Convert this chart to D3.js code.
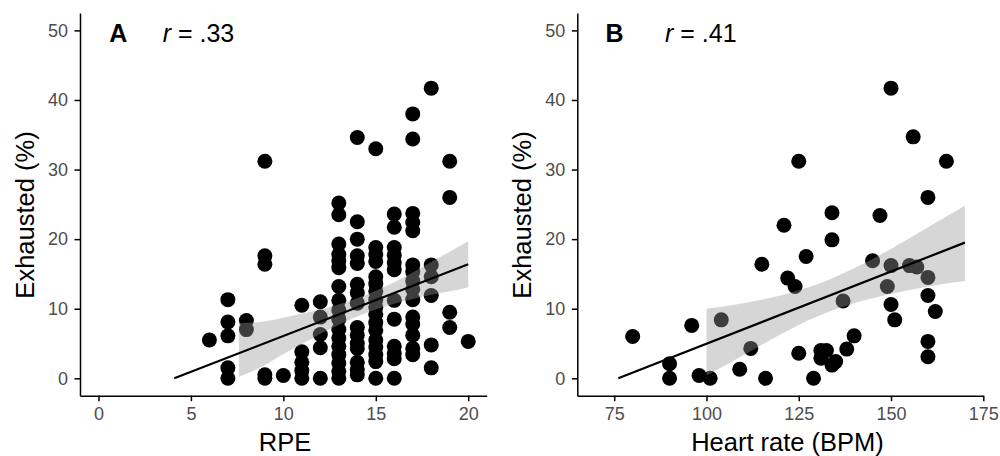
<!DOCTYPE html>
<html>
<head>
<meta charset="utf-8">
<script src="https://cdn.jsdelivr.net/npm/d3@7"></script>
<style>
  body { margin: 0; background: #fff; }
  svg { display: block; }
  text { font-family: "Liberation Sans", Arial, Helvetica, sans-serif; }
</style>
</head>
<body>
<svg id="chart" width="1000" height="456"></svg>
<script>
// ---- Panel A: RPE vs. exhausted (%) ----
const rpe = [
  6,
  7, 7, 7, 7, 7,
  8, 8,
  9, 9, 9, 9, 9,
  10,
  11, 11, 11, 11, 11,
  12, 12, 12, 12, 12,
  13, 13, 13, 13, 13, 13, 13, 13, 13, 13, 13, 13, 13, 13, 13, 13, 13,
  14, 14, 14, 14, 14, 14, 14, 14, 14, 14, 14, 14, 14, 14, 14,
  15, 15, 15, 15, 15, 15, 15, 15, 15, 15, 15, 15, 15, 15, 15, 15, 15,
  16, 16, 16, 16, 16, 16, 16, 16, 16, 16, 16, 16,
  17, 17, 17, 17, 17, 17, 17, 17, 17, 17, 17, 17, 17, 17, 17,
  18, 18, 18, 18, 18, 18,
  19, 19, 19, 19,
  20
];
const exhaustedA = [
  5.5,
  11.3, 8.1, 6.1, 1.5, 0,
  8.3, 7.0,
  31.2, 17.6, 16.4, 0.5, 0,
  0.4,
  10.5, 3.8, 2.3, 1.1, 0,
  11.0, 8.8, 6.3, 4.4, 0,
  25.2, 23.5, 19.3, 17.8, 16.9, 15.9, 13.2, 11.2, 9.8, 8.5, 7.0, 5.8, 4.6, 3.4, 2.2, 1.0, 0,
  34.6, 22.5, 20.0, 17.6, 16.5, 13.5, 12.3, 10.8, 7.3, 6.2, 5.0, 4.3, 2.3, 1.3, 0.5,
  33.0, 18.8, 17.8, 16.8, 14.6, 13.6, 12.5, 11.3, 10.2, 9.2, 8.0, 6.9, 5.5, 4.5, 3.4, 2.4, 0,
  23.6, 21.7, 18.8, 17.7, 16.6, 15.6, 11.2, 8.5, 4.6, 3.6, 2.8, 0,
  38.0, 34.4, 23.7, 22.4, 21.2, 16.3, 15.3, 14.0, 12.8, 11.3, 8.8, 7.8, 6.2, 4.3, 3.4,
  41.7, 16.3, 14.6, 11.9, 4.8, 1.5,
  31.2, 26.0, 9.5, 7.3,
  5.3
];
const fitAx = [4.1, 20];
const fitAy = [0, 16.4];
const bandAx  = [7.6, 9, 10, 11, 12, 13, 14, 15, 16, 17, 18, 19, 20];
const bandAlo = [0.2, 1.9, 3.5, 4.9, 6.4, 7.7, 8.9, 9.9, 10.7, 11.4, 12.0, 12.5, 13.1];
const bandAhi = [7.9, 8.2, 8.7, 9.3, 9.9, 10.6, 11.5, 12.6, 13.8, 15.2, 16.7, 18.2, 19.7];
const ticksAx = [0, 5, 10, 15, 20];

// ---- Panel B: heart rate vs. exhausted (%) ----
const heartRate = [
  80, 90, 90, 96, 98, 101, 104, 109, 112, 115,
  116, 121, 122, 124, 125, 125, 127, 129, 131, 131,
  132.5, 134, 134, 134, 135, 137, 138, 140, 145, 147,
  149, 150, 150, 150, 151, 155, 156, 157, 160, 160,
  160, 160, 160, 162, 165
];
const exhaustedB = [
  6.0, 2.1, 0, 7.6, 0.4, 0, 8.4, 1.3, 4.3, 16.4,
  0, 22.0, 14.4, 13.2, 31.2, 3.6, 17.5, 0, 4.0, 2.9,
  4.0, 23.8, 19.9, 1.9, 2.4, 11.1, 4.2, 6.1, 16.9, 23.4,
  13.2, 41.7, 16.2, 10.6, 8.4, 16.2, 34.7, 16.0, 26.0, 14.5,
  11.9, 5.3, 3.1, 9.6, 31.2
];
const fitBx = [76.1, 170];
const fitBy = [0, 19.5];
const bandBx  = [100, 110, 120, 130, 140, 150, 160, 170];
const bandBlo = [0.4, 3.3, 6.3, 8.9, 10.8, 12.1, 13.2, 14.0];
const bandBhi = [10.0, 10.8, 11.9, 13.5, 15.8, 18.6, 21.7, 24.8];
const ticksBx = [75, 100, 125, 150, 175];

const ticksY = [0, 10, 20, 30, 40, 50];
const yTitle = "Exhausted (%)";

const svg = d3.select("#chart");

function drawPanel(p) {
  const x = d3.scaleLinear().domain(p.xDomain).range([p.left, p.right]);
  const y = d3.scaleLinear().domain([-2.5, 52.5]).range([395.7, 13]);
  const g = svg.append("g");

  // points
  g.append("g").selectAll("circle")
    .data(p.xs.map((v, i) => [v, p.ys[i]]))
    .join("circle")
    .attr("cx", d => x(d[0]))
    .attr("cy", d => y(d[1]))
    .attr("r", 7.5)
    .attr("fill", "#000");

  // confidence ribbon, drawn over the points
  const band = p.bx.map((v, i) => [v, p.blo[i], p.bhi[i]]);
  g.append("path")
    .datum(band)
    .attr("d", d3.area()
      .x(d => x(d[0]))
      .y0(d => y(d[1]))
      .y1(d => y(d[2]))
      .curve(d3.curveMonotoneX))
    .attr("fill", "#999999")
    .attr("fill-opacity", 0.4);

  // regression line
  g.append("path")
    .datum(p.fx.map((v, i) => [v, p.fy[i]]))
    .attr("d", d3.line().x(d => x(d[0])).y(d => y(d[1])))
    .attr("fill", "none")
    .attr("stroke", "#000")
    .attr("stroke-width", 2.2);

  // axes
  const xAxis = g.append("g")
    .attr("transform", "translate(0,395.7)")
    .call(d3.axisBottom(x).tickValues(p.xTicks).tickSize(5.5).tickSizeOuter(0).tickPadding(6));
  const yAxis = g.append("g")
    .attr("transform", `translate(${p.left},0)`)
    .call(d3.axisLeft(y).tickValues(ticksY).tickSize(5.5).tickSizeOuter(0).tickPadding(6.5));
  [xAxis, yAxis].forEach(a => {
    a.select(".domain").attr("stroke", "#000").attr("stroke-width", 1.5);
    a.selectAll(".tick line").attr("stroke", "#000").attr("stroke-width", 1.5);
    a.selectAll(".tick text")
      .attr("fill", "#4d4d4d")
      .style("font-size", "18px")
      .style("font-family", "\"Liberation Sans\", Arial, sans-serif");
  });

  // axis titles
  g.append("text")
    .attr("x", p.xTitleX)
    .attr("y", 451)
    .attr("text-anchor", "middle")
    .style("font-size", "25.5px")
    .attr("fill", "#000")
    .text(p.xTitle);
  g.append("text")
    .attr("transform", `translate(${p.left - 46.5},215) rotate(-90)`)
    .attr("text-anchor", "middle")
    .style("font-size", "25.5px")
    .attr("fill", "#000")
    .text(yTitle);

  // panel tag and correlation
  g.append("text")
    .attr("x", p.tagX)
    .attr("y", 41.7)
    .style("font-size", "25px")
    .style("font-weight", "bold")
    .attr("fill", "#000")
    .text(p.tag);
  const r = g.append("text")
    .attr("x", p.rX)
    .attr("y", 41.7)
    .style("font-size", "25px")
    .attr("fill", "#000");
  r.append("tspan").style("font-style", "italic").text("r");
  r.append("tspan").text(" = " + p.rText);
}

drawPanel({
  xs: rpe, ys: exhaustedA,
  fx: fitAx, fy: fitAy,
  bx: bandAx, blo: bandAlo, bhi: bandAhi,
  xDomain: [-1, 21], left: 80, right: 486.7,
  xTicks: ticksAx, xTitle: "RPE", xTitleX: 285,
  tag: "A", tagX: 109.3, rX: 162.7, rText: ".33"
});

drawPanel({
  xs: heartRate, ys: exhaustedB,
  fx: fitBx, fy: fitBy,
  bx: bandBx, blo: bandBlo, bhi: bandBhi,
  xDomain: [65, 175], left: 577.3, right: 983.3,
  xTicks: ticksBx, xTitle: "Heart rate (BPM)", xTitleX: 787.5,
  tag: "B", tagX: 605.5, rX: 665, rText: ".41"
});
</script>
</body>
</html>
